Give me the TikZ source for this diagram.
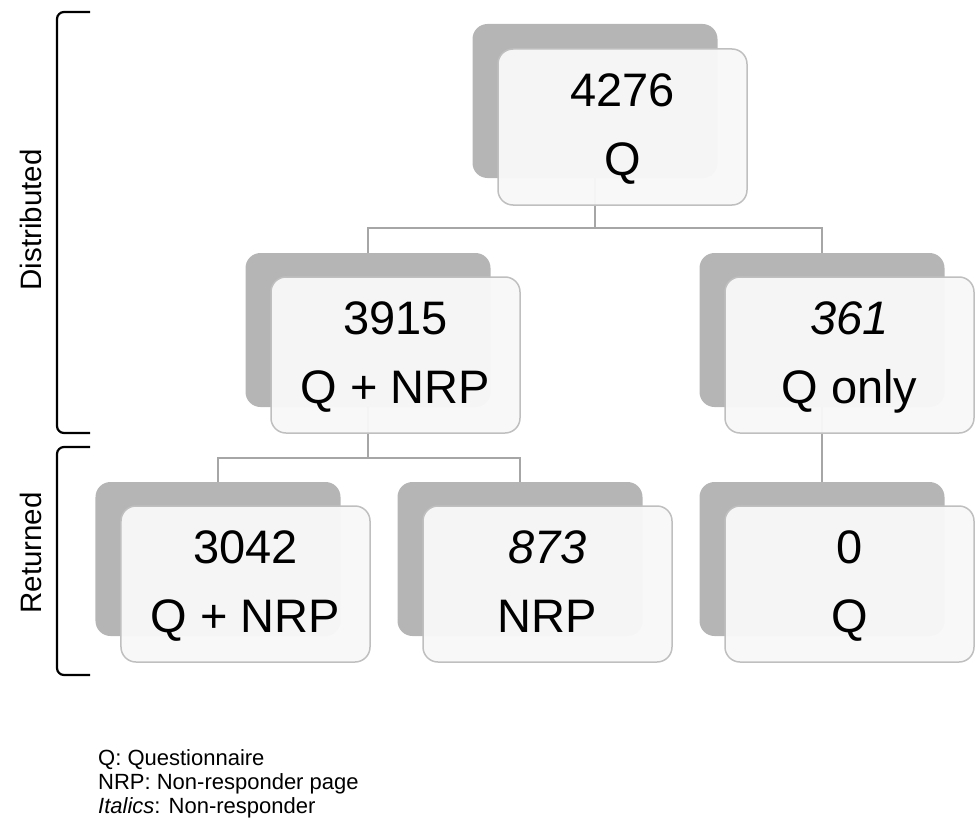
\documentclass[tikz,border=0pt]{standalone}
\usepackage{fontspec}
\setmainfont{Liberation Sans}
\usepackage{graphicx}
\definecolor{backgray}{HTML}{B5B5B5}
\definecolor{frontfill}{HTML}{F8F8F8}
\definecolor{frontline}{HTML}{BFBFBF}
\definecolor{connline}{HTML}{A6A6A6}
\newcommand{\boxtext}[2]{\raisebox{-1.5bp}{\fontsize{47bp}{69bp}\selectfont\begin{tabular}{@{}c@{}}#1\\#2\end{tabular}}}
\begin{document}
\begin{tikzpicture}[x=1bp,y=-1bp,
  backbox/.style={rectangle, rounded corners=15bp, fill=backgray, draw=none,
    minimum width=245bp, minimum height=154bp, inner sep=0pt},
  frontbox/.style={rectangle, rounded corners=15bp, fill=frontfill, fill opacity=0.96,
    text opacity=1, draw=frontline, line width=1.5bp,
    minimum width=249bp, minimum height=156bp, inner sep=0pt},
  conn/.style={draw=connline, line width=1.5bp},
  brk/.style={draw=black, line width=2.2bp, rounded corners=7bp},
  sidelbl/.style={rotate=90, anchor=base, inner sep=0pt, font=\fontsize{29.5bp}{34bp}\selectfont},
  leg/.style={anchor=base west, inner sep=0pt, font=\fontsize{22bp}{25bp}\selectfont}]
\useasboundingbox (0,0) rectangle (975,820);
% back shadows
\node[backbox] (tb)  at (595,101) {};
\node[backbox] (mlb) at (368,330) {};
\node[backbox] (mrb) at (822,330) {};
\node[backbox] (blb) at (218,559) {};
\node[backbox] (bmb) at (520,559) {};
\node[backbox] (brb) at (822,559) {};
% connectors
\draw[conn] (tb.south) -- ++(0,50) -| (mlb.north);
\draw[conn] (tb.south) -- ++(0,50) -| (mrb.north);
\draw[conn] (mlb.south) -- ++(0,51) -| (blb.north);
\draw[conn] (mlb.south) -- ++(0,51) -| (bmb.north);
\draw[conn] (mrb.south) -- (brb.north);
% front boxes
\node[frontbox] (t)  at (622.5,127) {\boxtext{4276}{Q}};
\node[frontbox] (ml) at (395.5,355) {\boxtext{3915}{Q + NRP}};
\node[frontbox] (mr) at (849.5,355) {\boxtext{\itshape 361}{Q only}};
\node[frontbox] (bl) at (245.5,584) {\boxtext{3042}{Q + NRP}};
\node[frontbox] (bm) at (547.5,584) {\boxtext{\itshape 873}{NRP}};
\node[frontbox] (br) at (849.5,584) {\boxtext{0}{Q}};
% brackets
\draw[brk] (90,12) -- (57,12) -- (57,433) -- (90,433);
\draw[brk] (90,447) -- (57,447) -- (57,675) -- (90,675);
\node[sidelbl] (dist) at (41,220) {Distributed};
\node[sidelbl] (ret)  at (41,553) {Returned};
% legend
\node[leg] (l1) at (98,765) {Q: Questionnaire};
\node[leg] (l2) at (98,789) {NRP: Non-responder page};
\node[leg] (l3) at (98,813) {\textit{Italics}: Non-responder};
\end{tikzpicture}
\end{document}
